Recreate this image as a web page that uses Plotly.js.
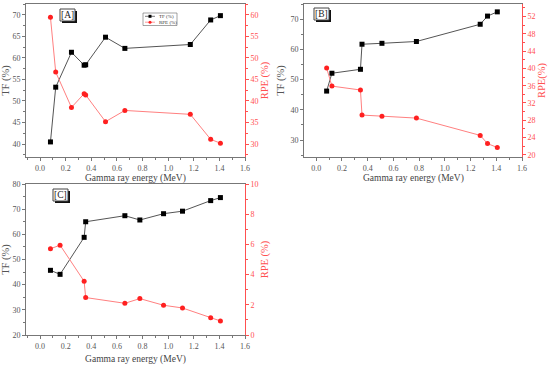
<!DOCTYPE html>
<html><head><meta charset="utf-8">
<script src="https://cdn.plot.ly/plotly-3.0.1.min.js"></script>
<style>html,body{margin:0;padding:0;background:#fff}#plot{width:550px;height:366px}</style>
</head><body><div id="plot"></div>
<script>
// Panel A
var energyA = [0.081, 0.122, 0.245, 0.344, 0.356, 0.511, 0.662, 1.173, 1.332, 1.408];
var tfA     = [40.5, 53.2, 61.3, 58.3, 58.4, 64.8, 62.2, 63.1, 68.8, 69.8];
var rpeA    = [59.4, 46.7, 38.5, 41.7, 41.4, 35.2, 37.8, 36.9, 31.1, 30.2];
// Panel B
var energyB = [0.081, 0.122, 0.344, 0.356, 0.511, 0.779, 1.275, 1.332, 1.408];
var tfB     = [46.2, 52.1, 53.4, 61.7, 62.0, 62.6, 68.3, 71.0, 72.4];
var rpeB    = [40.1, 35.9, 35.0, 29.2, 28.95, 28.5, 24.5, 22.6, 21.7];
// Panel C
var energyC = [0.081, 0.156, 0.344, 0.356, 0.662, 0.779, 0.964, 1.112, 1.332, 1.408];
var tfC     = [45.7, 44.1, 58.8, 65.0, 67.4, 65.7, 68.2, 69.2, 73.4, 74.6];
var rpeC    = [5.71, 5.95, 3.56, 2.48, 2.1, 2.41, 1.97, 1.79, 1.15, 0.93];

var panelLabels = ['[A]', '[B]', '[C]'];
var xTitle = 'Gamma ray energy (MeV)';
var tfName = 'TF (%)';
var rpeName = 'RPE (%)';
var rpeNameB = 'RPE(%)';

var W = 550, H = 366;
function px(x){return x/W;}
function py(y){return 1 - y/H;}

var FONT = '"Liberation Serif", "Times New Roman", serif';
var GRAY = '#555555';
var RED = '#ff5050';
var TFLINE = '#555555';
var RPELINE = '#ff8080';
var TFMARK = '#000000';
var RPEMARK = '#ff2020';

function tfTrace(x, y, xa, ya){
  return {x:x, y:y, xaxis:xa, yaxis:ya, type:'scatter', mode:'lines+markers', name:tfName,
    showlegend:false, line:{color:TFLINE, width:1},
    marker:{symbol:'square', size:5, color:TFMARK}};
}
function rpeTrace(x, y, xa, ya){
  return {x:x, y:y, xaxis:xa, yaxis:ya, type:'scatter', mode:'lines+markers', name:rpeName,
    showlegend:false, line:{color:RPELINE, width:1},
    marker:{symbol:'circle', size:5, color:RPEMARK}};
}

var data = [
  tfTrace(energyA, tfA, 'x', 'y'),
  rpeTrace(energyA, rpeA, 'x', 'y2'),
  tfTrace(energyB, tfB, 'x2', 'y3'),
  rpeTrace(energyB, rpeB, 'x2', 'y4'),
  tfTrace(energyC, tfC, 'x3', 'y5'),
  rpeTrace(energyC, rpeC, 'x3', 'y6')
];

var TITLEFONT = {family:FONT, size:9.5, color:'#444'};

function xAxis(dom, anchor, range, withTitle){
  var ax = {domain:dom, anchor:anchor, range:range, dtick:0.2, tick0:0, tickformat:'.1f',
    showgrid:false, zeroline:false, showline:true, linecolor:'#777', linewidth:1, mirror:true,
    ticks:'outside', ticklen:3, tickcolor:'#777',
    minor:{ticks:'outside', ticklen:2, tickcolor:'#777', dtick:0.1},
    tickfont:{family:FONT, size:8, color:GRAY}};
  if (withTitle) ax.title = {text:xTitle, font:TITLEFONT, standoff:5};
  return ax;
}
function yLeft(dom, anchor, range, dtick, title){
  return {domain:dom, anchor:anchor, range:range, dtick:dtick, showgrid:false, zeroline:false,
    showline:true, linecolor:'#777', linewidth:1, ticks:'outside', ticklen:3, tickcolor:'#777',
    minor:{ticks:'outside', ticklen:2, tickcolor:'#777', dtick:dtick/2},
    tickfont:{family:FONT, size:8, color:GRAY},
    title:{text:title, font:{family:FONT, size:10.5, color:'#555'}, standoff:3}};
}
function yRight(overlay, anchor, range, dtick, title){
  return {overlaying:overlay, anchor:anchor, side:'right', range:range, dtick:dtick,
    showgrid:false, zeroline:false, showline:true, linecolor:RED, linewidth:1,
    ticks:'outside', ticklen:3, tickcolor:RED,
    minor:{ticks:'outside', ticklen:2, tickcolor:RED, dtick:dtick/2},
    tickfont:{family:FONT, size:8, color:RED},
    title:{text:title, font:{family:FONT, size:10.5, color:RED}, standoff:3}};
}

var domAx = [px(26), px(245)];
var domBx = [px(304), px(522)];
var domAy = [py(157), py(4)];
var domCy = [py(335), py(184)];

var layout = {
  width:W, height:H, margin:{l:0, r:0, t:0, b:0},
  paper_bgcolor:'#fff', plot_bgcolor:'rgba(0,0,0,0)',
  font:{family:FONT},
  xaxis: xAxis(domAx, 'y', [-0.11, 1.6], false),
  yaxis: yLeft(domAy, 'x', [37, 72.5], 5, tfName),
  yaxis2: yRight('y', 'x', [27, 62.5], 5, rpeName),
  xaxis2: xAxis(domBx, 'y3', [-0.095, 1.6], false),
  yaxis3: yLeft(domAy, 'x2', [24.4, 75], 10, tfName),
  yaxis4: yRight('y3', 'x2', [19.5, 54.9], 4, rpeNameB),
  xaxis3: xAxis(domAx, 'y5', [-0.11, 1.6], true),
  yaxis5: yLeft(domCy, 'x3', [20, 80], 10, tfName),
  yaxis6: yRight('y5', 'x3', [0, 10], 2, rpeName),
  showlegend:false,
  shapes:[],
  annotations:[
    {xref:'paper', yref:'paper', x:(domAx[0]+domAx[1])/2, y:py(178), xanchor:'center', yanchor:'middle',
     text:xTitle, showarrow:false, font:TITLEFONT},
    {xref:'paper', yref:'paper', x:(domBx[0]+domBx[1])/2, y:py(178.5), xanchor:'center', yanchor:'middle',
     text:xTitle, showarrow:false, font:TITLEFONT}
  ]
};

// panel labels: boxed with a drop shadow
var labelPos = [[68, 15], [322, 14], [61, 195]];
labelPos.forEach(function(p, i){
  layout.shapes.push({type:'rect', xref:'paper', yref:'paper',
    x0:px(p[0]-6), x1:px(p[0]+9), y0:py(p[1]+8), y1:py(p[1]-4),
    fillcolor:'#111', line:{width:0}});
  layout.shapes.push({type:'rect', xref:'paper', yref:'paper',
    x0:px(p[0]-8), x1:px(p[0]+7), y0:py(p[1]+6), y1:py(p[1]-6),
    fillcolor:'#fff', line:{width:1, color:'#444'}});
  layout.annotations.push({xref:'paper', yref:'paper', x:px(p[0]-0.5), y:py(p[1]),
    xanchor:'center', yanchor:'middle',
    text:panelLabels[i], showarrow:false, font:{family:FONT, size:9.5, color:'#222'}});
});

// small legend box in panel A (key glyphs only)
var lg = {x0:143, x1:177, y0:13, y1:25.5};
layout.shapes.push({type:'rect', xref:'paper', yref:'paper',
  x0:px(lg.x0), x1:px(lg.x1), y0:py(lg.y1), y1:py(lg.y0),
  fillcolor:'#fff', line:{width:0.6, color:'#666'}});
var keys = [
  {y:16.3, text:tfName, line:TFLINE, mark:TFMARK, sym:'rect'},
  {y:22.2, text:rpeName, line:RPELINE, mark:RPEMARK, sym:'circle'}
];
keys.forEach(function(k){
  layout.shapes.push({type:'line', xref:'paper', yref:'paper',
    x0:px(145), x1:px(155), y0:py(k.y), y1:py(k.y), line:{color:k.line, width:0.8}});
  layout.shapes.push({type:k.sym, xref:'paper', yref:'paper',
    x0:px(148.5), x1:px(151.5), y0:py(k.y+1.5), y1:py(k.y-1.5),
    fillcolor:k.mark, line:{width:0}});
  layout.annotations.push({xref:'paper', yref:'paper', x:px(157), y:py(k.y),
    xanchor:'left', yanchor:'middle', text:k.text, showarrow:false,
    font:{family:FONT, size:5, color:'#333'}});
});

Plotly.newPlot('plot', data, layout, {displayModeBar:false, staticPlot:true});
</script></body></html>
